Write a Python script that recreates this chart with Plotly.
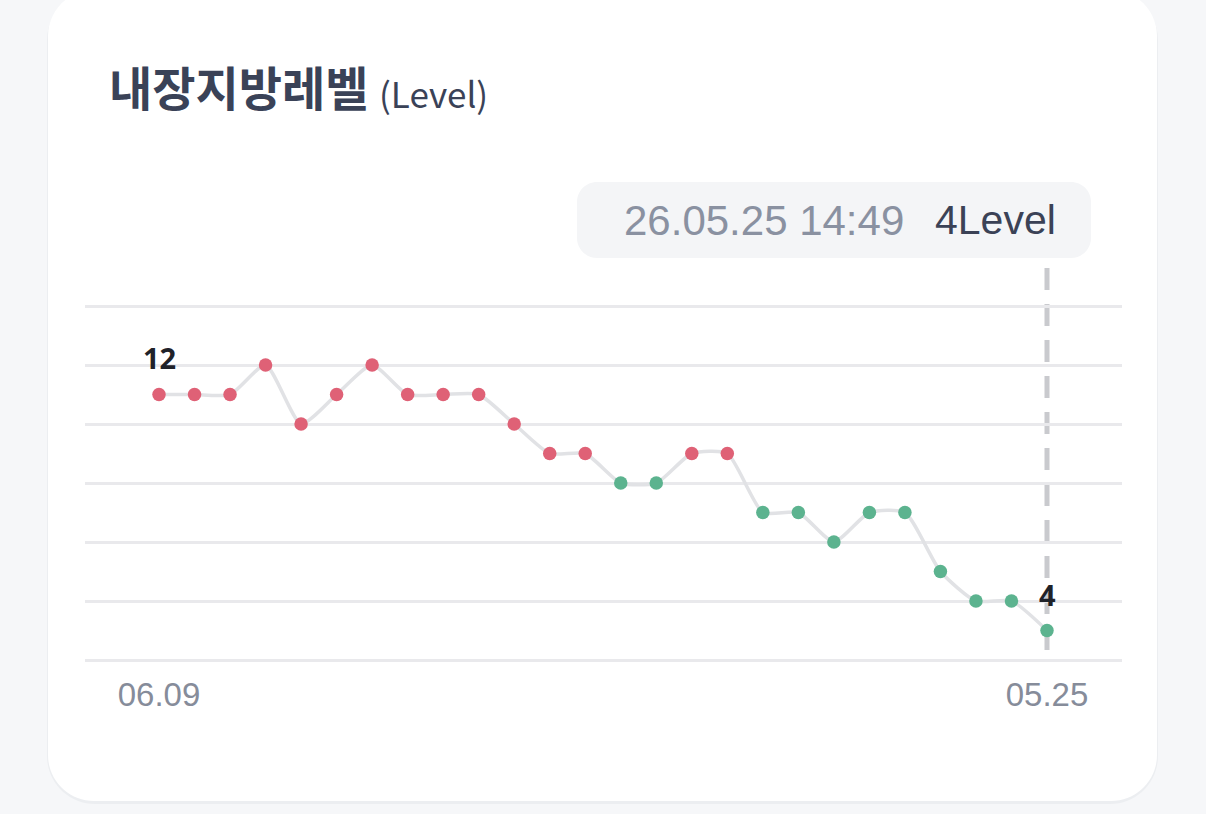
import plotly.graph_objects as go

W, H = 1206, 814

levels = [12, 12, 12, 13, 11, 12, 13, 12, 12, 12, 11, 10, 10, 9, 9, 10, 10, 8, 8, 7, 8, 8, 6, 5, 5, 4]
tick_labels = ["06.09", "05.25"]
title_main = "내장지방레벨"
title_unit = "(Level)"
tooltip_time = "26.05.25 14:49"
tooltip_value = "4Level"
y_grid = [3, 5, 7, 9, 11, 13, 15]

RED = "#df6176"
GREEN = "#5cb38f"
colors = [RED if v >= 10 else GREEN for v in levels]
n = len(levels)
xs = list(range(n))


def px(x):
    return x / W


def py(y):
    return 1 - y / H


def rrect(x0, y0, x1, y1, r):
    k = 0.5523 * r
    pts = [
        f"M {px(x0 + r)} {py(y0)}",
        f"L {px(x1 - r)} {py(y0)}",
        f"C {px(x1 - r + k)} {py(y0)} {px(x1)} {py(y0 + r - k)} {px(x1)} {py(y0 + r)}",
        f"L {px(x1)} {py(y1 - r)}",
        f"C {px(x1)} {py(y1 - r + k)} {px(x1 - r + k)} {py(y1)} {px(x1 - r)} {py(y1)}",
        f"L {px(x0 + r)} {py(y1)}",
        f"C {px(x0 + r - k)} {py(y1)} {px(x0)} {py(y1 - r + k)} {px(x0)} {py(y1 - r)}",
        f"L {px(x0)} {py(y0 + r)}",
        f"C {px(x0)} {py(y0 + r - k)} {px(x0 + r - k)} {py(y0)} {px(x0 + r)} {py(y0)}",
        "Z",
    ]
    return " ".join(pts)


# plot-area geometry (pixels)
grid_left, grid_right = 85, 1122
x_first, x_last = 159, 1047
step = (x_last - x_first) / (n - 1)
xr0 = 0 - (x_first - grid_left) / step
xr1 = (n - 1) + (grid_right - x_last) / step

y_top_px, y_bot_px = 306, 660  # 15 and 3
unit = (y_bot_px - y_top_px) / 12
pad = 0.2
yr0, yr1 = 3 - pad, 15 + pad
dom_bot = py(y_bot_px + pad * unit)
dom_top = py(y_top_px - pad * unit)

fig = go.Figure()

fig.add_trace(go.Scatter(
    x=xs, y=levels, mode="lines",
    line=dict(color="#e1e2e5", width=3.5, shape="spline", smoothing=0.6),
    hoverinfo="skip", showlegend=False,
))
fig.add_trace(go.Scatter(
    x=xs, y=levels, mode="markers",
    marker=dict(color=colors, size=13.5, line=dict(width=0)),
    hoverinfo="skip", showlegend=False,
))

shapes = []
# card shadow and card
shapes.append(dict(type="path", xref="paper", yref="paper", layer="below",
                   path=rrect(47, -8, 1158, 804, 48), fillcolor="#eceef1",
                   line=dict(width=0)))
shapes.append(dict(type="path", xref="paper", yref="paper", layer="below",
                   path=rrect(48, -10, 1157, 801, 46), fillcolor="#ffffff",
                   line=dict(width=0)))
# tooltip box
shapes.append(dict(type="path", xref="paper", yref="paper", layer="below",
                   path=rrect(577, 182, 1091, 258, 20), fillcolor="#f4f5f7",
                   line=dict(width=0)))
# dashed cursor line
shapes.append(dict(type="line", xref="x", yref="paper",
                   x0=n - 1, x1=n - 1, y0=py(268), y1=py(652),
                   line=dict(color="#c9cace", width=5, dash="22px,14px"),
                   layer="below"))

fig.update_layout(
    width=W, height=H,
    margin=dict(l=0, r=0, t=0, b=0),
    paper_bgcolor="#f6f7f9",
    plot_bgcolor="rgba(0,0,0,0)",
    shapes=shapes,
    xaxis=dict(
        domain=[px(grid_left), px(grid_right)],
        range=[xr0, xr1],
        showgrid=False, zeroline=False, showline=False,
        tickmode="array", tickvals=[0, n - 1], ticktext=tick_labels,
        tickfont=dict(family="Liberation Sans", size=33, color="#868c9a"),
        ticks="", ticklabelstandoff=6,
    ),
    yaxis=dict(
        domain=[dom_bot, dom_top],
        range=[yr0, yr1],
        showgrid=True, gridcolor="#e9e9ec", gridwidth=2.5,
        zeroline=False, showline=False,
        tickmode="array", tickvals=y_grid, showticklabels=False, ticks="",
    ),
    annotations=[
        dict(xref="paper", yref="paper", x=px(107), y=py(85),
             xanchor="left", yanchor="middle", showarrow=False,
             text=f"<b>{title_main}</b>",
             font=dict(family="Noto Sans CJK KR", size=47, color="#3a4257")),
        dict(xref="paper", yref="paper", x=px(377), y=py(92),
             xanchor="left", yanchor="middle", showarrow=False,
             text=title_unit,
             font=dict(family="Noto Sans CJK KR", size=35, color="#3a4257")),
        dict(xref="paper", yref="paper", x=px(622), y=py(220),
             xanchor="left", yanchor="middle", showarrow=False,
             text=tooltip_time,
             font=dict(family="Liberation Sans", size=42, color="#8a91a1")),
        dict(xref="paper", yref="paper", x=px(1058), y=py(220),
             xanchor="right", yanchor="middle", showarrow=False,
             text=tooltip_value,
             font=dict(family="Liberation Sans", size=41, color="#3b4256")),
        dict(xref="x", yref="y", x=0, y=levels[0], yshift=37,
             xanchor="center", yanchor="middle", showarrow=False,
             text=f"<b>{levels[0]}</b>",
             font=dict(family="Noto Sans", size=29, color="#1f2229")),
        dict(xref="x", yref="y", x=n - 1, y=levels[-1], yshift=36,
             xanchor="center", yanchor="middle", showarrow=False,
             text=f"<b>{levels[-1]}</b>",
             font=dict(family="Noto Sans", size=29, color="#1f2229")),
    ],
)

fig.write_html("out.html")
